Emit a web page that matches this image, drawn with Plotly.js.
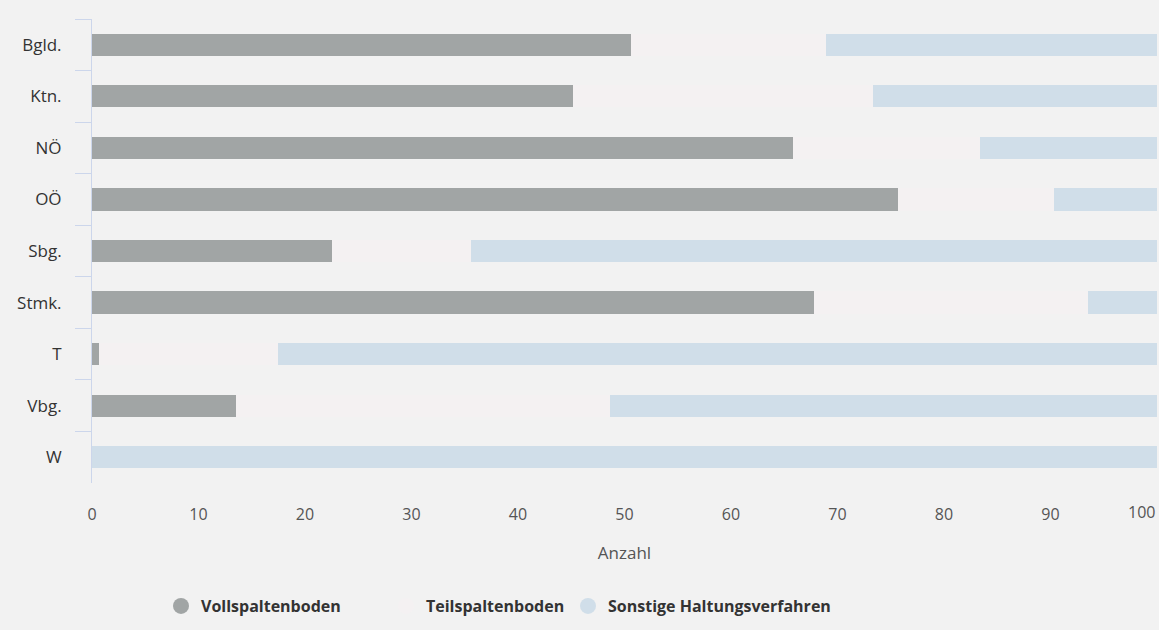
<!DOCTYPE html>
<html>
<head>
<meta charset="utf-8">
<script src="https://cdn.plot.ly/plotly-3.0.1.min.js"></script>
<style>
  html, body { margin: 0; padding: 0; background: #f2f2f2; }
  #chart { width: 1159px; height: 630px; }
</style>
</head>
<body>
<div id="chart"></div>
<script>
// Data
const categories = ["Bgld.", "Ktn.", "NÖ", "OÖ", "Sbg.", "Stmk.", "T", "Vbg.", "W"];
const vollspaltenboden = [50.6, 45.2, 65.8, 75.7, 22.5, 67.8, 0.7, 13.5, 0];
const teilspaltenboden = [18.3, 28.1, 17.6, 14.6, 13.1, 25.7, 16.8, 35.1, 0];
const sonstige = [31.1, 26.7, 16.6, 9.7, 64.4, 6.5, 82.5, 51.4, 100];
const seriesNames = ["Vollspaltenboden", "Teilspaltenboden", "Sonstige Haltungsverfahren"];
const xTickVals = [0, 10, 20, 30, 40, 50, 60, 70, 80, 90];
const lastTick = 100;

const colors = ["#a1a5a5", "#f4f1f2", "#d0dee9"];
const seriesValues = [vollspaltenboden, teilspaltenboden, sonstige];
const legendIds = ["legend", "legend2", "legend3"];

const traces = [];
seriesValues.forEach((vals, i) => {
  traces.push({
    type: "bar",
    orientation: "h",
    y: categories,
    x: vals,
    name: seriesNames[i],
    legendgroup: "g" + i,
    showlegend: false,
    marker: { color: colors[i], line: { width: 0 } },
    hoverinfo: "y+x+name"
  });
});
// legend entries with round symbols
seriesValues.forEach((vals, i) => {
  traces.push({
    type: "scatter",
    mode: "markers",
    x: [null],
    y: [null],
    name: seriesNames[i],
    legendgroup: "g" + i,
    legend: legendIds[i],
    marker: { color: colors[i], size: 16, symbol: "circle" },
    hoverinfo: "skip"
  });
});

const plotTop = 19, plotBottom = 483, plotLeft = 92, plotRight = 1157, H = 630;
const plotH = plotBottom - plotTop;
const plotW = plotRight - plotLeft;
const FONT = "'Open Sans', Lato, sans-serif";

function legendAt(markerX) {
  return {
    orientation: "h",
    x: (markerX - 20 - plotLeft) / plotW,
    xanchor: "left",
    y: -(606 - plotBottom) / plotH,
    yanchor: "middle",
    font: { size: 16, color: "#333", family: FONT, weight: "bold" },
    bgcolor: "rgba(0,0,0,0)"
  };
}

const layout = {
  width: 1159,
  height: 630,
  paper_bgcolor: "#f2f2f2",
  plot_bgcolor: "#f2f2f2",
  barmode: "stack",
  bargap: 0.57,
  margin: { l: plotLeft, r: 1159 - plotRight, t: plotTop, b: H - plotBottom, pad: 0 },
  font: { family: FONT, color: "#444" },
  xaxis: {
    range: [0, 100],
    tickvals: xTickVals,
    ticktext: xTickVals.map(String),
    showgrid: false,
    zeroline: false,
    showline: false,
    ticks: "outside",
    ticklen: 17,
    tickcolor: "rgba(0,0,0,0)",
    tickfont: { size: 16, color: "#555", family: FONT },
    title: { text: "Anzahl", font: { size: 17, color: "#555", family: FONT }, standoff: 22 },
    automargin: false,
    fixedrange: true
  },
  yaxis: {
    type: "category",
    categoryorder: "array",
    categoryarray: categories,
    autorange: "reversed",
    showgrid: false,
    zeroline: false,
    showline: true,
    linecolor: "#ccd6eb",
    linewidth: 1,
    ticks: "outside",
    tickson: "boundaries",
    ticklen: 16,
    tickcolor: "#ccd6eb",
    tickfont: { size: 17, color: "#333", family: FONT },
    ticklabelstandoff: 26,
    automargin: false,
    fixedrange: true
  },
  annotations: [{
    x: lastTick, xref: "x",
    y: 0, yref: "paper",
    yshift: -29,
    text: String(lastTick),
    showarrow: false,
    xanchor: "right",
    yanchor: "middle",
    font: { size: 16, color: "#555", family: FONT }
  }],
  legend: legendAt(181),
  legend2: legendAt(406),
  legend3: legendAt(588),
  showlegend: true
};

Plotly.newPlot("chart", traces, layout, { displayModeBar: false });
</script>
</body>
</html>
